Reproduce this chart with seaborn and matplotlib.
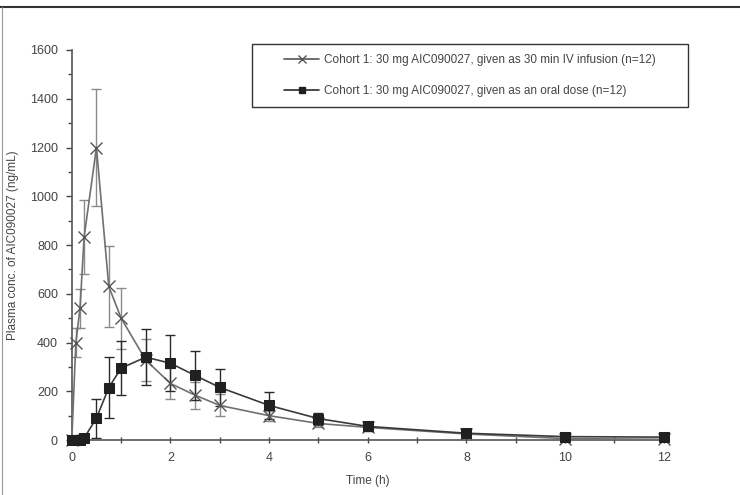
import numpy as np
import pandas as pd
import matplotlib
matplotlib.use("Agg")
import matplotlib.pyplot as plt
from matplotlib.lines import Line2D
from matplotlib.patches import Rectangle
from matplotlib.ticker import MultipleLocator
import seaborn as sns

# ---- data ----
time_h = [0, 0.083, 0.167, 0.25, 0.5, 0.75, 1, 1.5, 2, 2.5, 3, 4, 5, 6, 8, 10, 12]
iv_mean = [0, 400, 540, 833, 1200, 630, 500, 328, 232, 184, 142, 100, 68, 52, 25, 6, 3]
iv_sd = [0, 60, 80, 153, 240, 168, 125, 85, 65, 55, 45, 20, 15, 12, 6, 3, 2]
oral_mean = [0, 0, 2, 8, 90, 215, 295, 340, 315, 265, 216, 142, 88, 56, 28, 14, 12]
oral_sd = [0, 0, 2, 5, 80, 125, 112, 115, 115, 100, 75, 55, 25, 18, 6, 5, 5]
labels = ["Cohort 1: 30 mg AIC090027, given as 30 min IV infusion (n=12)",
          "Cohort 1: 30 mg AIC090027, given as an oral dose (n=12)"]
x_ticks = [0, 2, 4, 6, 8, 10, 12]
y_ticks = [0, 200, 400, 600, 800, 1000, 1200, 1400, 1600]

df = pd.DataFrame({
    "time": time_h * 2,
    "conc": iv_mean + oral_mean,
    "sd": iv_sd + oral_sd,
    "group": [labels[0]] * len(time_h) + [labels[1]] * len(time_h),
})

sns.set_theme(style="ticks")
plt.rcParams["font.family"] = ["Liberation Sans", "DejaVu Sans"]

fig = plt.figure(figsize=(7.4, 4.95), dpi=100)
ax = fig.add_axes([0.097, 0.111, 0.800, 0.788])

line_colors = {labels[0]: "#707070", labels[1]: "#3a3a3a"}
err_colors = {labels[0]: "#8a8a8a", labels[1]: "#2a2a2a"}
marker_kw = {
    labels[0]: dict(marker="x", markersize=8, markeredgecolor="#555555",
                    markeredgewidth=1.0),
    labels[1]: dict(marker="s", markersize=7, markerfacecolor="#202020",
                    markeredgecolor="#202020"),
}

for g, sub in df.groupby("group", sort=False):
    ax.errorbar(sub["time"], sub["conc"], yerr=sub["sd"], fmt="none",
                ecolor=err_colors[g], elinewidth=1.0, capsize=3.5, capthick=1.0,
                zorder=2, clip_on=False)
    sns.lineplot(data=sub, x="time", y="conc", color=line_colors[g],
                 linewidth=1.2, ax=ax, legend=False, zorder=3,
                 estimator=None, sort=False, clip_on=False, **marker_kw[g])

ax.set_xlim(0, 12)
ax.set_ylim(0, 1600)
ax.set_xticks(x_ticks)
ax.set_yticks(y_ticks)
ax.xaxis.set_minor_locator(MultipleLocator(1))
ax.yaxis.set_minor_locator(MultipleLocator(100))
ax.tick_params(axis="both", which="major", labelsize=9, colors="#444444",
               length=4, width=1, direction="out", pad=6)
ax.tick_params(axis="both", which="minor", length=3, width=1, color="#444444")
ax.tick_params(axis="x", which="both", direction="inout", length=5)
for s in ["top", "right"]:
    ax.spines[s].set_visible(False)
for s in ["left", "bottom"]:
    ax.spines[s].set_color("#555555")
    ax.spines[s].set_linewidth(1.2)

ax.set_xlabel("Time (h)", fontsize=8.5, color="#444444", labelpad=8)
ax.set_ylabel("Plasma conc. of AIC090027 (ng/mL)", fontsize=8.5, color="#444444", labelpad=8)

# legend box (drawn separately to get the wide padding of the original)
box_x0, box_x1, box_y0, box_y1 = 0.304, 1.0405, 0.854, 1.0154
ax.add_patch(Rectangle((box_x0, box_y0), box_x1 - box_x0, box_y1 - box_y0,
                       transform=ax.transAxes, fill=True, facecolor="white",
                       edgecolor="#333333", linewidth=1.0, clip_on=False, zorder=4))

handles = [
    Line2D([0], [0], color="#555555", lw=1.2, marker="x", markersize=6,
           markeredgecolor="#555555"),
    Line2D([0], [0], color="#2a2a2a", lw=1.2, marker="s", markersize=5,
           markerfacecolor="#202020", markeredgecolor="#202020"),
]
leg = ax.legend(handles, labels, loc="center",
                bbox_to_anchor=((box_x0 + box_x1) / 2, (box_y0 + box_y1) / 2),
                fontsize=8.5, frameon=False, handlelength=3.0,
                borderpad=0.0, labelspacing=1.65, handletextpad=0.4,
                borderaxespad=0.0, labelcolor="#444444")
leg.set_zorder(5)

# page border lines
fig.add_artist(Line2D([0, 1], [1 - 7 / 495, 1 - 7 / 495], transform=fig.transFigure,
                      color="#333333", lw=1.5))
fig.add_artist(Line2D([2 / 740, 2 / 740], [0, 1 - 7 / 495], transform=fig.transFigure,
                      color="#999999", lw=0.8))

fig.savefig("out.png", dpi=100)
